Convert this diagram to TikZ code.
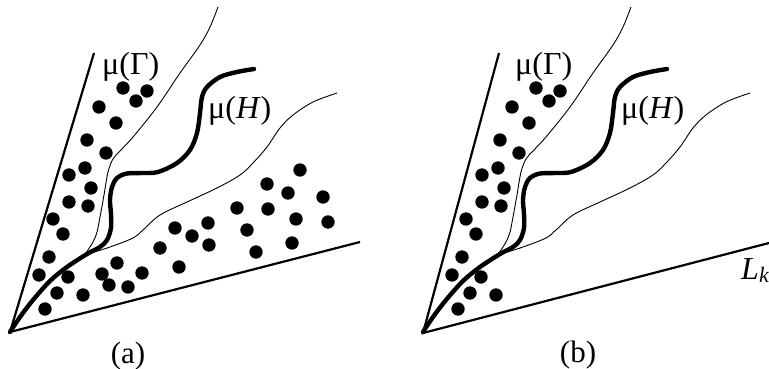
\documentclass[tikz,border=0pt]{standalone}
\usepackage{fontspec}
\setmainfont{Liberation Serif}
\newcommand\panelcurves{%
  \draw[hcurve] plot[smooth,tension=0.55] coordinates {(10,332) (20,317) (33,300) (50,281) (67,267) (87,254) (100,247) (107,240) (111,228) (111,214) (110,200) (112,187) (117,178) (127,173.5) (143,173) (158,172) (177,163) (190,150) (197,133) (200,113) (202,97) (207,87) (220,77) (237,72) (254,69)};
  \draw[fineline] plot[smooth,tension=0.55] coordinates {(86,253) (93,242) (97,232) (100,217) (104,195) (108,172) (113,159) (120,151) (133,137) (157,107) (180,73) (200,45) (210,27) (218,7)};
  \draw[fineline] plot[smooth,tension=0.55] coordinates {(88,254) (110,247) (133,238) (143,230) (160,215) (187,202) (217,188) (240,175) (253,163) (267,147) (280,128) (293,115) (313,102) (337,93)};
  \foreach \p in {(123,88),(147,91),(136,101),(99,107),(116,123),(87,140),(106,153),(69,175),(85,168),(91,188),(69,202),(88,206),(53,219),(63,234),(49,257),(39,275),(68,277),(57,293),(45,309),(83,295)}
    \fill[dotstyle] \p circle[radius=6.7pt];
  \node[lbl] (mg) at (102,75) {μ(Γ)};
  \node[lbl] (mh) at (208,118) {μ(\textit{H})};
}
\begin{document}
\begin{tikzpicture}[x=1pt,y=-1pt,
  edge/.style={line width=2.2pt},
  hcurve/.style={line width=4.4pt,line cap=round,line join=round},
  fineline/.style={line width=0.9pt},
  dotstyle/.style={fill=black},
  lbl/.style={font=\fontsize{32}{32}\selectfont,inner sep=0pt,anchor=base west},
  captionlbl/.style={font=\fontsize{31}{31}\selectfont,inner sep=0pt,anchor=base}]
\useasboundingbox (0,0) rectangle (769,369);
% panel (a)
\coordinate (oa) at (10,332);
\coordinate (la) at (94,53);
\coordinate (ra) at (360,242);
\draw[edge] (la) -- (oa) -- (ra);
\panelcurves
\foreach \p in {(102,274),(117,263),(109,285),(128,287),(142,273),(160,248),(179,267),(175,228),(192,236),(208,223),(209,245),(237,208),(247,230),(256,252),(267,184),(268,209),(288,193),(300,170),(296,219),(292,243),(323,197),(328,222)}
  \fill[dotstyle] \p circle[radius=6.7pt];
\node[captionlbl] (capa) at (128,363) {(a)};
% panel (b)
\coordinate (ob) at (423,333);
\coordinate (lb) at (499,53);
\coordinate (rb) at (769,243);
\draw[edge] (lb) -- (ob) -- (rb);
\begin{scope}[xshift=413pt]
\panelcurves
\end{scope}
\node[lbl] (lk) at (741,279) {\textit{L}\raisebox{-0.12em}{\fontsize{22}{22}\selectfont\textit{k}}};
\node[captionlbl] (capb) at (578,362) {(b)};
\end{tikzpicture}
\end{document}
